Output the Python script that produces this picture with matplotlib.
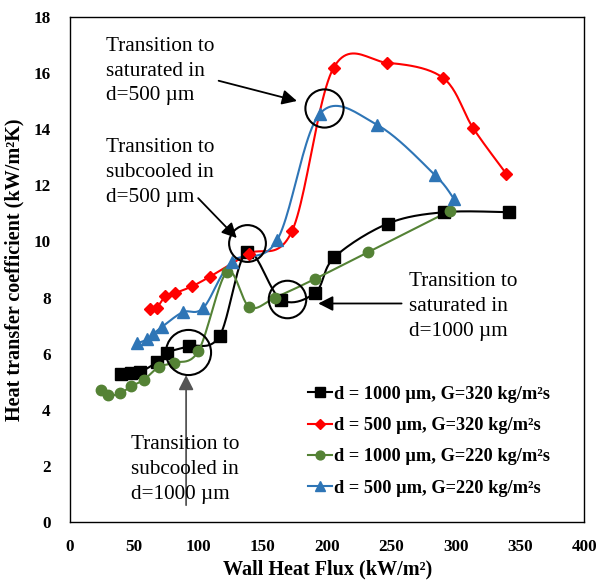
import numpy as np
import matplotlib
matplotlib.use("Agg")
import matplotlib.pyplot as plt
from matplotlib.lines import Line2D

plt.rcParams['font.family'] = ['Liberation Serif', 'DejaVu Serif']

# ---------------- data ----------------
q_1000_320 = [39.7, 47.5, 54.5, 67.5, 75.3, 92.4, 116.3, 137.5, 164.0, 190.8, 205.5, 247.0, 290.8, 341.4]
h_1000_320 = [5.27, 5.31, 5.35, 5.70, 6.04, 6.27, 6.63, 9.62, 7.93, 8.18, 9.43, 10.63, 11.04, 11.04]

q_500_320 = [62.3, 67.5, 74.0, 81.8, 94.8, 109.0, 138.9, 172.8, 205.0, 246.6, 290.2, 313.6, 339.3]
h_500_320 = [7.60, 7.64, 8.04, 8.16, 8.40, 8.75, 9.56, 10.38, 16.18, 16.36, 15.82, 14.03, 12.41]

q_1000_220 = [23.9, 29.8, 38.9, 47.5, 57.6, 69.1, 80.5, 99.9, 122.0, 139.6, 159.7, 190.8, 231.8, 295.2]
h_1000_220 = [4.70, 4.52, 4.59, 4.84, 5.08, 5.53, 5.68, 6.10, 8.91, 7.66, 8.00, 8.67, 9.62, 11.08]

q_500_220 = [52.4, 60.2, 64.9, 71.4, 87.7, 103.8, 125.9, 161.0, 194.2, 238.8, 283.5, 298.5]
h_500_220 = [6.38, 6.51, 6.71, 6.95, 7.48, 7.64, 9.28, 10.04, 14.54, 14.15, 12.38, 11.52]

labels = ["d = 1000 µm, G=320 kg/m²s", "d = 500 µm, G=320 kg/m²s",
          "d = 1000 µm, G=220 kg/m²s", "d = 500 µm, G=220 kg/m²s"]

x_ticks = [0, 50, 100, 150, 200, 250, 300, 350, 400]
y_ticks = [0, 2, 4, 6, 8, 10, 12, 14, 16, 18]

# annotation texts / anchors (data coordinates)
ann_texts = ["Transition to\nsaturated in\nd=500 µm",
             "Transition to\nsubcooled in\nd=500 µm",
             "Transition to\nsaturated in\nd=1000 µm",
             "Transition to\nsubcooled in\nd=1000 µm"]
ann_text_pos = [(28.0, 17.29), (28.0, 13.67), (263.6, 8.90), (47.2, 3.11)]
circle_pos = [(197.3, 14.76), (137.9, 9.96), (168.8, 7.94), (92.1, 6.05)]
circle_size = [27.5, 26.5, 27, 32.5]
arrow_start = [(115.6, 15.72), (99.7, 11.54), (257.9, 7.79), (90.3, 0.61)]
arrow_end = [(176.5, 15.00), (129.7, 10.12), (193.1, 7.79), (90.3, 5.24)]
arrow_col = ['black', 'black', 'black', '#555555']


def smooth(x, y, n=25):
    pts = np.column_stack([x, y]).astype(float)
    out = [pts[0]]
    t = np.linspace(0, 1, n)[1:, None]
    for i in range(len(pts) - 1):
        p0 = pts[i - 1] if i > 0 else pts[i]
        p1 = pts[i]
        p2 = pts[i + 1]
        p3 = pts[i + 2] if i + 2 < len(pts) else pts[i + 1]
        c1 = p1 + (p2 - p0) / 6.0
        c2 = p2 - (p3 - p1) / 6.0
        seg = (1 - t) ** 3 * p1 + 3 * (1 - t) ** 2 * t * c1 + 3 * (1 - t) * t ** 2 * c2 + t ** 3 * p2
        out.extend(seg)
    out = np.array(out)
    return out[:, 0], out[:, 1]


fig = plt.figure(figsize=(6.01, 5.80), dpi=100)
ax = fig.add_axes([70 / 601, 1 - 522.3 / 580, (584.3 - 70) / 601, (522.3 - 16.7) / 580])

series = [
    (q_1000_320, h_1000_320, 'black', 's', 8.0),
    (q_500_320, h_500_320, '#FF0000', 'D', 6.5),
    (q_1000_220, h_1000_220, '#548235', 'o', 7.5),
    (q_500_220, h_500_220, '#2E75B6', '^', 8.5),
]
handles = []
for (xs, ys, c, m, ms), lab in zip(series, labels):
    sx, sy = smooth(xs, ys)
    ax.plot(sx, sy, color=c, lw=1.5, zorder=3)
    ax.plot(xs, ys, linestyle='none', marker=m, ms=ms, color=c, mec=c, zorder=4)
    handles.append(Line2D([], [], color=c, lw=1.5, marker=m, ms=ms * 0.85, mec=c, label=lab))

# annotations
for (cx, cy), s in zip(circle_pos, circle_size):
    ax.plot([cx], [cy], marker='o', ms=s, mfc='none', mec='black', mew=1.5, linestyle='none', zorder=5)
for st, en, col in zip(arrow_start, arrow_end, arrow_col):
    ax.annotate('', xy=en, xytext=st,
                arrowprops=dict(arrowstyle='-|>,head_length=0.55,head_width=0.28', color=col,
                                lw=1.3, mutation_scale=16, shrinkA=0, shrinkB=0), zorder=6)
for txt, (tx, ty) in zip(ann_texts, ann_text_pos):
    ax.text(tx, ty, txt, ha='left', va='top', fontsize=15.3, linespacing=1.42, color='black', zorder=6)

ax.set_xlim(0, 400)
ax.set_ylim(0, 18)
ax.set_xticks(x_ticks)
ax.set_yticks(y_ticks)
ax.tick_params(axis='both', length=0, labelsize=12.3)
ax.tick_params(axis='x', pad=12)
ax.tick_params(axis='y', pad=14)
for lab in ax.get_xticklabels() + ax.get_yticklabels():
    lab.set_fontweight('bold')
for sp in ax.spines.values():
    sp.set_color('black')
    sp.set_linewidth(1.0)

ax.set_xlabel('Wall Heat Flux (kW/m²)', fontsize=14.5, fontweight='bold', labelpad=3)
ax.set_ylabel('Heat transfer coefficient (kW/m²K)', fontsize=14.5, fontweight='bold', labelpad=6)

leg = ax.legend(handles=handles, loc='upper left', bbox_to_anchor=(0.463, 0.27), frameon=False,
                prop={'weight': 'bold', 'size': 13.2}, handlelength=1.3, handletextpad=0.1,
                labelspacing=0.78, borderpad=0, borderaxespad=0)

fig.savefig('out.png', dpi=100)
